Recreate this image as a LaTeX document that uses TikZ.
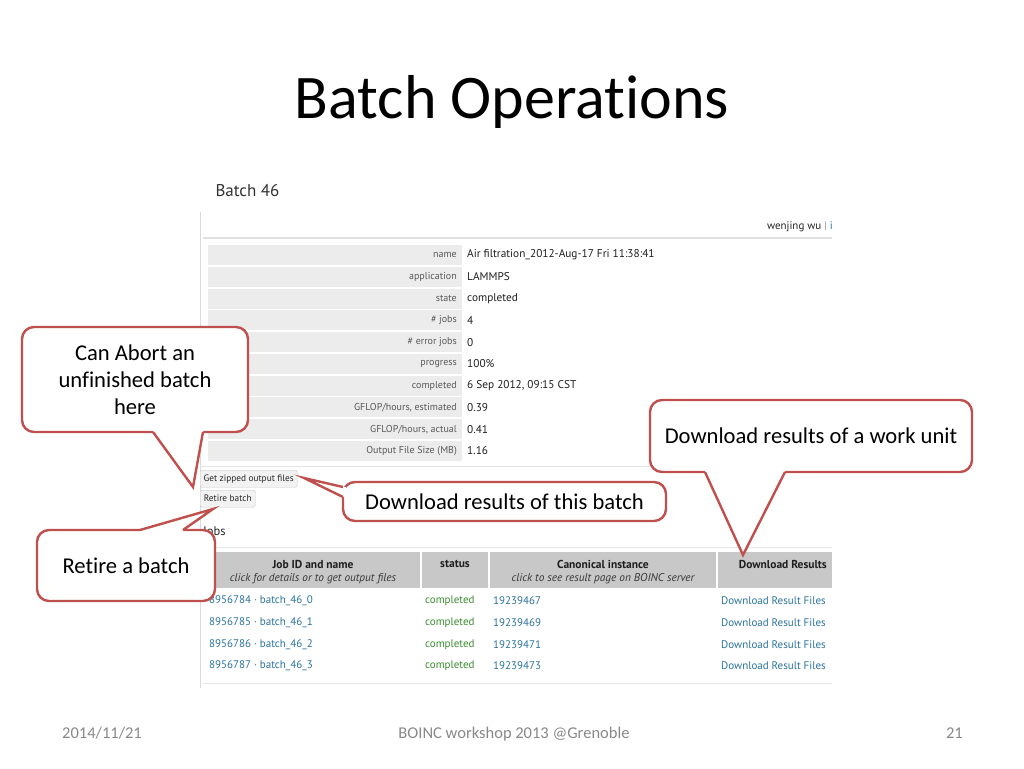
\documentclass[tikz,border=0pt]{standalone}
\usepackage{fontspec}
\setmainfont{Carlito}[Ligatures=NoCommon]
\newfontfamily\webfont{PT Sans}
\usetikzlibrary{positioning}

\definecolor{calloutred}{RGB}{192,80,77}
\definecolor{footgray}{RGB}{137,137,137}
\definecolor{cellgray}{RGB}{236,236,236}
\definecolor{headgray}{RGB}{200,200,200}
\definecolor{linkblue}{RGB}{42,115,158}
\definecolor{okgreen}{RGB}{58,142,48}

\tikzset{
  callout/.style={draw=calloutred, line width=2.4pt, fill=white, rounded corners=12pt,
    align=center, inner sep=0pt, font=\fontsize{22.6}{27}\selectfont},
  pointer/.style={draw=calloutred, line width=2.4pt, line join=miter},
  key/.style={anchor=east, inner sep=0pt, text=black!65, font=\webfont\fontsize{10}{11}\selectfont},
  val/.style={anchor=west, inner sep=0pt, text=black!88, font=\webfont\fontsize{11.3}{12}\selectfont},
  cell/.style={anchor=west, inner sep=0pt, font=\webfont\fontsize{11}{12}\selectfont},
  headtext/.style={inner sep=0pt, text=black!88, font=\webfont\bfseries\fontsize{11.5}{12}\selectfont},
  headsub/.style={inner sep=0pt, text=black!78, font=\webfont\itshape\fontsize{11.3}{12}\selectfont},
  button/.style={draw=black!22, fill=black!5, rounded corners=1.5pt, inner sep=0pt,
    anchor=north west, minimum height=17pt, text=black!85, font=\webfont\fontsize{9.3}{10}\selectfont},
  foot/.style={text=footgray, inner sep=0pt, font=\fontsize{16.5}{18}\selectfont}
}

% base point, tip, base point, shift into the box
\newcommand{\pointto}[4]{%
  \fill[white] ([shift={#4}]#1) -- (#1) -- (#2) -- (#3) -- ([shift={#4}]#3) -- cycle;
  \draw[pointer] (#1) -- (#2) -- (#3);}

\begin{document}
\begin{tikzpicture}[x=1pt,y=-1pt]
  \useasboundingbox (0,0) rectangle (1024,768);
  \fill[white] (0,0) rectangle (1024,768);

  % title
  \node[anchor=base, font=\fontsize{62}{70}\selectfont] (title) at (512,118) {Batch Operations};

  % screenshot of the batch page
  \node[anchor=base west, text=black!80, font=\webfont\fontsize{17}{19}\selectfont] (batch) at (212,196) {Batch 46};
  \node[anchor=base east, inner sep=0pt, text=black!85, font=\webfont\fontsize{11}{12}\selectfont] (user) at (833,229)
    {wenjing wu \textcolor{black!40}{|} \textcolor{linkblue}{i}};
  \draw[black!14] (200,212) -- (200,688);
  \draw[black!12, line width=1.2pt] (203,238) -- (832,238);
  \foreach \k/\v [count=\i from 0] in {
      name/{Air filtration\_2012-Aug-17 Fri 11:38:41},
      application/LAMMPS,
      state/completed,
      {\# jobs}/4,
      {\# error jobs}/0,
      progress/100\%,
      completed/{6 Sep 2012, 09:15 CST},
      {GFLOP/hours, estimated}/0.39,
      {GFLOP/hours, actual}/0.41,
      {Output File Size (MB)}/1.16} {
    \fill[cellgray] (208,{245+21.78*\i}) rectangle (462,{265+21.78*\i});
    \node[key] (k\i) at (457,{255+21.78*\i}) {\k};
    \node[val] (v\i) at (467,{255+21.78*\i}) {\v};
  }
  \draw[black!10] (200,466) -- (832,466);
  \node[button, minimum width=97pt] (zipbtn) at (200,470) {Get zipped output files};
  \node[button, minimum width=55pt] (retirebtn) at (200,490) {Retire batch};

  % jobs table
  \node[anchor=base west, inner sep=0pt, text=black!85, font=\webfont\fontsize{12.5}{14}\selectfont] (jobs) at (203,535) {Jobs};
  \draw[black!10, line width=1pt] (203,547) -- (832,547);
  \fill[headgray] (205,552) rectangle (832,588);
  \foreach \x in {421,489,717}
    \draw[white, line width=2pt] (\x,552) -- (\x,588);
  \node[headtext] (h1) at (313,564) {Job ID and name};
  \node[headsub] (s1) at (313,579) {click for details or to get output files};
  \node[headtext] (h2) at (455,564) {status};
  \node[headtext] (h3) at (603,564) {Canonical instance};
  \node[headsub] (s3) at (603,579) {click to see result page on BOINC server};
  \node[headtext, anchor=east] (h4) at (827,564) {Download Results};
  \foreach \j/\c [count=\i from 0] in {8956784/19239467, 8956785/19239469, 8956786/19239471, 8956787/19239473} {
    \node[cell, text=linkblue] (job\i) at (209,{601+21.67*\i}) {\j~·~batch\_46\_\i};
    \node[cell, text=okgreen] (state\i) at (425,{601+21.67*\i}) {completed};
    \node[cell, text=linkblue] (inst\i) at (493,{601+21.67*\i}) {\c};
    \node[cell, text=linkblue] (dl\i) at (721,{601+21.67*\i}) {Download Result Files};
  }
  \draw[black!10, line width=1pt] (203,683) -- (832,683);

  % callouts
  \node[callout, minimum width=226pt, minimum height=105pt] (abort) at (135,379.5) {Can Abort an\\unfinished batch\\here};
  \coordinate (abort b1) at (153,432);
  \coordinate (abort tip) at (193,487);
  \coordinate (abort b2) at (203,432);
  \pointto{abort b1}{abort tip}{abort b2}{(0,-3)}

  \node[callout, minimum width=178pt, minimum height=71pt] (retire) at (126,565.5) {Retire a batch};
  \coordinate (retire b1) at (140,530);
  \coordinate (retire tip) at (213,509);
  \coordinate (retire b2) at (183,530);
  \pointto{retire b1}{retire tip}{retire b2}{(0,3)}

  \node[callout, minimum width=323pt, minimum height=39pt] (batchdl) at (504.5,501.5) {Download results of this batch};
  \coordinate (batchdl b1) at (343,487);
  \coordinate (batchdl tip) at (304,478);
  \coordinate (batchdl b2) at (343,497);
  \pointto{batchdl b1}{batchdl tip}{batchdl b2}{(3,0)}

  \node[callout, minimum width=322pt, minimum height=72pt] (unitdl) at (811,436) {Download results of a work unit};
  \coordinate (unitdl b1) at (705,472);
  \coordinate (unitdl tip) at (743,555);
  \coordinate (unitdl b2) at (785,472);
  \pointto{unitdl b1}{unitdl tip}{unitdl b2}{(0,-3)}

  % footer
  \node[foot, anchor=base west] (date) at (62,738) {2014/11/21};
  \node[foot, anchor=base] (event) at (514,738) {BOINC workshop 2013 @Grenoble};
  \node[foot, anchor=base east] (page) at (963,738) {21};
\end{tikzpicture}
\end{document}
